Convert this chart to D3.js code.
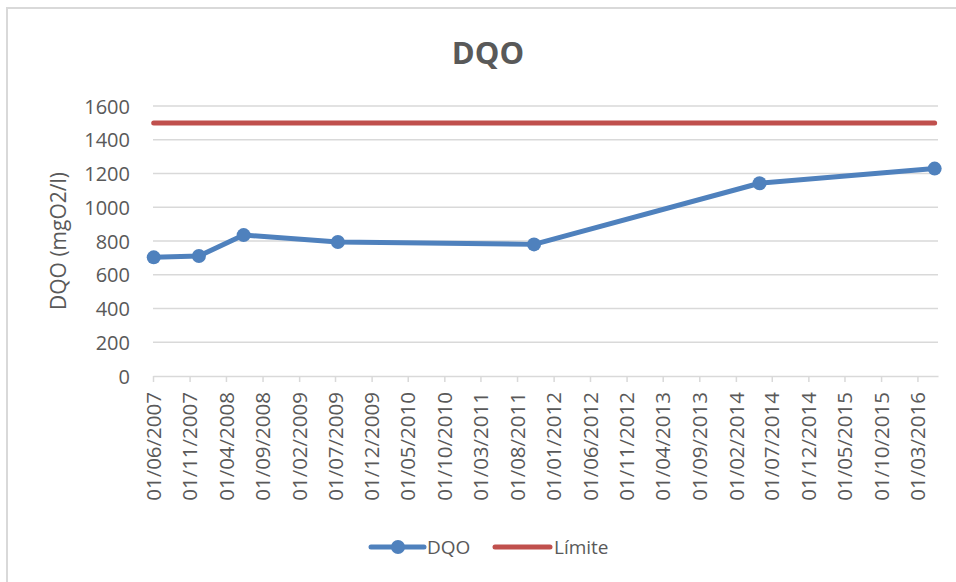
<!DOCTYPE html>
<html>
<head>
<meta charset="utf-8">
<script src="https://cdn.jsdelivr.net/npm/d3@7"></script>
<style>
  body { margin: 0; background: #fff; }
  svg text { font-family: "Open Sans", Lato, sans-serif; fill: #595959; }
</style>
</head>
<body>
<div id="grafico"></div>
<script>
// datos
const fechas = ["2007-06-04", "2007-12-10", "2008-06-14", "2009-07-13", "2011-10-11", "2014-05-11", "2016-05-12"];
const valoresDQO = [703, 711, 835, 794, 780, 1142, 1229];
const valoresLimite = [1500, 1500, 1500, 1500, 1500, 1500, 1500];
const ticksY = [0, 200, 400, 600, 800, 1000, 1200, 1400, 1600];
const ticksX = ["2007-06-01", "2007-11-01", "2008-04-01", "2008-09-01", "2009-02-01", "2009-07-01",
  "2009-12-01", "2010-05-01", "2010-10-01", "2011-03-01", "2011-08-01", "2012-01-01", "2012-06-01",
  "2012-11-01", "2013-04-01", "2013-09-01", "2014-02-01", "2014-07-01", "2014-12-01", "2015-05-01",
  "2015-10-01", "2016-03-01"];

const WIDTH = 956;
const HEIGHT = 582;
const X0 = 153, X1 = 938, Y0 = 376, Y1 = 106;

const parse = d3.utcParse("%Y-%m-%d");
const fmt = d3.utcFormat("%d/%m/%Y");

const SVG = d3.select("#grafico").append("svg").attr("width", WIDTH).attr("height", HEIGHT);

// marco
SVG.append("path")
  .attr("d", "M7," + HEIGHT + " V8 H" + WIDTH)
  .attr("fill", "none")
  .attr("stroke", "#d9d9d9")
  .attr("stroke-width", 2);

var escalaX = d3.scaleUtc()
  .domain([parse("2007-06-01"), parse("2016-05-26")])
  .range([X0, X1]);
var escalaY = d3.scaleLinear()
  .domain([0, 1600])
  .range([Y0, Y1]);

// lineas de cuadricula
SVG.append("g").selectAll("line")
  .data(ticksY.filter(d => d > 0))
  .enter().append("line")
  .attr("x1", X0).attr("x2", X1)
  .attr("y1", d => escalaY(d)).attr("y2", d => escalaY(d))
  .attr("stroke", "#d9d9d9").attr("stroke-width", 1.3);

// eje Y
var ejeY = d3.axisLeft(escalaY).tickValues(ticksY).tickFormat(d3.format("d")).tickSize(0).tickPadding(23);
var gY = SVG.append("g").attr("transform", "translate(" + X0 + ",0)").call(ejeY);
gY.select(".domain").remove();
gY.selectAll("text").style("font-size", "20px").attr("dy", "0.35em").attr("fill", "#595959");

// eje X
var ejeX = d3.axisBottom(escalaX)
  .tickValues(ticksX.map(parse))
  .tickFormat(fmt)
  .tickSize(6)
  .tickSizeOuter(0);
var gX = SVG.append("g").attr("transform", "translate(0," + Y0 + ")").call(ejeX);
gX.select(".domain").attr("stroke", "#d9d9d9").attr("stroke-width", 1.5);
gX.selectAll(".tick line").attr("stroke", "#d9d9d9").attr("stroke-width", 1.5);
gX.selectAll("text")
  .style("font-size", "20.5px")
  .attr("fill", "#595959")
  .attr("transform", "rotate(-90)")
  .attr("x", -16)
  .attr("y", 0)
  .attr("dy", "0.35em")
  .style("text-anchor", "end");

// series
var puntosDQO = fechas.map((f, i) => [parse(f), valoresDQO[i]]);
var puntosLimite = fechas.map((f, i) => [parse(f), valoresLimite[i]]);
var linea = d3.line().x(d => escalaX(d[0])).y(d => escalaY(d[1]));

SVG.append("path")
  .datum(puntosLimite)
  .attr("d", linea)
  .attr("fill", "none")
  .attr("stroke", "#c0504d")
  .attr("stroke-width", 5)
  .attr("stroke-linecap", "round");

SVG.append("path")
  .datum(puntosDQO)
  .attr("d", linea)
  .attr("fill", "none")
  .attr("stroke", "#4f81bd")
  .attr("stroke-width", 5)
  .attr("stroke-linejoin", "round")
  .attr("stroke-linecap", "round");

SVG.append("g").selectAll("circle")
  .data(puntosDQO)
  .enter().append("circle")
  .attr("cx", d => escalaX(d[0]))
  .attr("cy", d => escalaY(d[1]))
  .attr("r", 7)
  .attr("fill", "#4f81bd");

// titulo
SVG.append("text")
  .attr("x", 488).attr("y", 64)
  .attr("text-anchor", "middle")
  .style("font-size", "31px")
  .style("font-weight", "bold")
  .text("DQO");

// titulo eje Y
SVG.append("text")
  .attr("transform", "translate(59,241) rotate(-90)")
  .attr("dy", "0.35em")
  .attr("text-anchor", "middle")
  .style("font-size", "21px")
  .text("DQO (mgO2/l)");

// leyenda
var leyenda = SVG.append("g").attr("transform", "translate(0,547)");
leyenda.append("line")
  .attr("x1", 371).attr("x2", 424).attr("y1", 0).attr("y2", 0)
  .attr("stroke", "#4f81bd").attr("stroke-width", 5).attr("stroke-linecap", "round");
leyenda.append("circle").attr("cx", 398).attr("cy", 0).attr("r", 7).attr("fill", "#4f81bd");
leyenda.append("text").attr("x", 427).attr("y", 0).attr("dy", "0.35em")
  .style("font-size", "19px").text("DQO");
leyenda.append("line")
  .attr("x1", 495).attr("x2", 550).attr("y1", 0).attr("y2", 0)
  .attr("stroke", "#c0504d").attr("stroke-width", 5).attr("stroke-linecap", "round");
leyenda.append("text").attr("x", 554).attr("y", 0).attr("dy", "0.35em")
  .style("font-size", "19px").text("Límite");
</script>
</body>
</html>
